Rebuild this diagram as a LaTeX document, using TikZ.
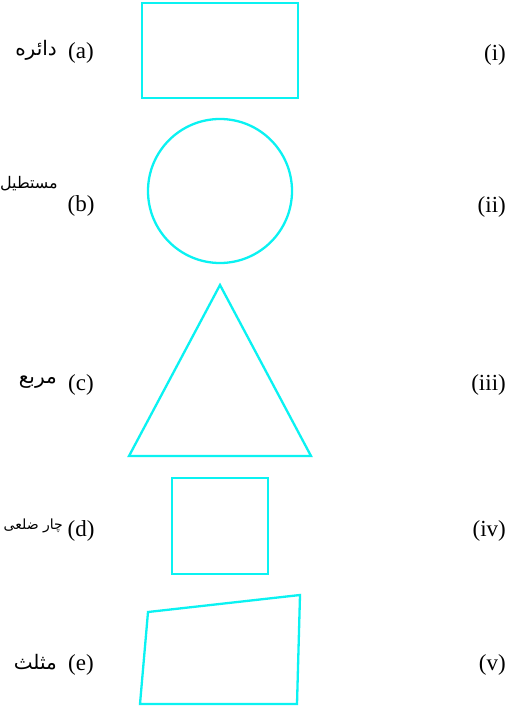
\documentclass[tikz,border=0pt]{standalone}
\usepackage{fontspec}
\setmainfont{Liberation Serif}
\newfontfamily\urdufont[Script=Arabic]{DejaVu Sans}
\TeXXeTstate=1
\definecolor{shapecyan}{RGB}{10,242,242}
\begin{document}
\begin{tikzpicture}[x=1pt,y=-1pt,
  shapeline/.style={draw=shapecyan, line width=2.3pt},
  lbl/.style={font=\fontsize{23}{27}\selectfont, inner sep=0pt},
  urd/.style={font=\urdufont\fontsize{20}{24}\selectfont, inner sep=0pt, anchor=east}]
\useasboundingbox (0,0) rectangle (510,711);
% left Urdu labels
\node[urd] (ua) at (57,50) {\beginR دائره\endR};
\node[urd, font=\urdufont\fontsize{16}{20}\selectfont] (ub) at (58,184) {\beginR مستطیل\endR};
\node[urd] (uc) at (57,382) {\beginR مربع\endR};
\node[urd, font=\urdufont\fontsize{14}{20}\selectfont] (ud) at (63,526) {\beginR چار ضلعی\endR};
\node[urd] (ue) at (57,662) {\beginR مثلث\endR};
% letter labels
\node[lbl] (la) at (81,53) {(a)};
\node[lbl] (lb) at (81,206) {(b)};
\node[lbl] (lc) at (81,385) {(c)};
\node[lbl] (ld) at (81,531) {(d)};
\node[lbl] (le) at (81,665) {(e)};
% roman labels
\node[lbl, anchor=east] (ri) at (506,55) {(i)};
\node[lbl, anchor=east] (rii) at (506,207) {(ii)};
\node[lbl, anchor=east] (riii) at (506,385) {(iii)};
\node[lbl, anchor=east] (riv) at (506,531) {(iv)};
\node[lbl, anchor=east] (rv) at (506,665) {(v)};
% shapes
\draw[shapeline] (142,3) rectangle (298,98);
\draw[shapeline] (220,191) circle (72);
\draw[shapeline] (220,285) -- (311,456) -- (129,456) -- cycle;
\draw[shapeline] (172,478) rectangle (268,574);
\draw[shapeline] (148,612) -- (300,595) -- (297,704) -- (140,704) -- cycle;
\end{tikzpicture}
\end{document}
